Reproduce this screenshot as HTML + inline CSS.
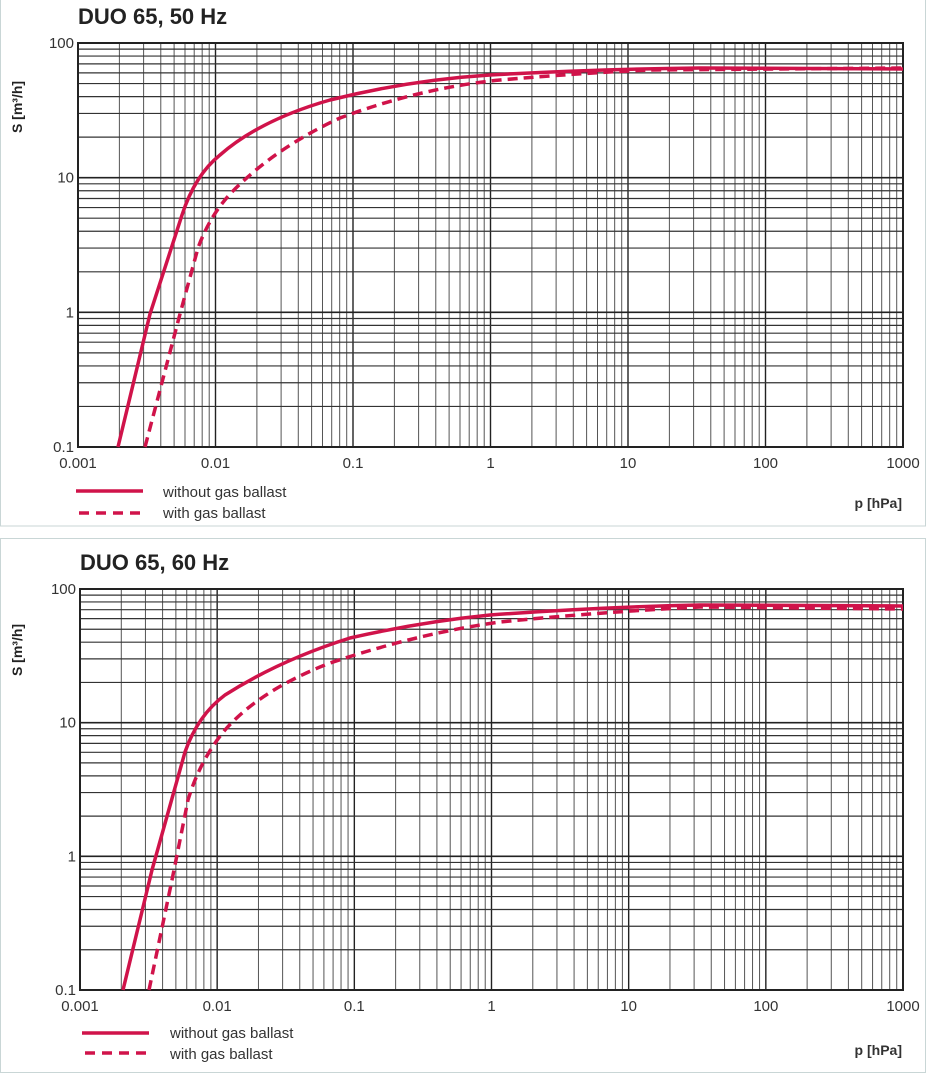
<!DOCTYPE html>
<html><head><meta charset="utf-8"><style>
html,body{margin:0;padding:0;background:#fff;}
svg{display:block;font-family:"Liberation Sans",sans-serif;}
</style></head><body>
<svg id="s" width="933" height="1076" xmlns="http://www.w3.org/2000/svg">
<rect x="0.5" y="-2" width="925" height="528" fill="#fff" stroke="#c9d6d6"/>
<rect x="0.5" y="538.5" width="925" height="534" fill="#fff" stroke="#c9d6d6"/>
<g id="g"></g>
<text x="78" y="24" font-size="22" font-weight="bold" fill="#222">DUO 65, 50 Hz</text>
<text x="80" y="570" font-size="22" font-weight="bold" fill="#222">DUO 65, 60 Hz</text>
<text transform="translate(22,107) rotate(-90)" font-size="14" fill="#222" text-anchor="middle" font-weight="bold">S [m³/h]</text>
<text transform="translate(22,650) rotate(-90)" font-size="14" fill="#222" text-anchor="middle" font-weight="bold">S [m³/h]</text>
<text x="902" y="508" font-size="14" font-weight="bold" fill="#333" text-anchor="end">p [hPa]</text>
<text x="902" y="1055" font-size="14" font-weight="bold" fill="#333" text-anchor="end">p [hPa]</text>
<g stroke="#d0134a" stroke-width="3.5" fill="none">
<line x1="76" y1="491" x2="143" y2="491"/>
<line x1="79" y1="513" x2="143" y2="513" stroke-dasharray="10,7"/>
<line x1="82" y1="1033" x2="149" y2="1033"/>
<line x1="85" y1="1053" x2="149" y2="1053" stroke-dasharray="10,7"/>
<path d="M118,447 L150,314 L182,215 Q195,175 220,155 Q260,120 330,100 Q410,80 490,75 Q600,69 700,68 L903,69"/>
<path stroke-dasharray="10,6" d="M145,447 L180,314 L198,248 Q210,215 232,192 Q275,148 340,118 Q420,88 500,80 Q580,73 650,70 L903,68"/>
<path d="M123,990 L152,870 L185,752 Q198,715 225,695 Q280,660 350,638 Q420,622 490,615 Q600,607 700,605 L903,606"/>
<path stroke-dasharray="10,6" d="M149,990 L172,880 L188,800 Q200,760 225,730 Q260,690 330,663 Q420,633 500,622 Q600,612 700,607 L903,609"/>
</g>
<g font-size="15" fill="#333">
<text x="163" y="497">without gas ballast</text>
<text x="163" y="518">with gas ballast</text>
<text x="170" y="1038">without gas ballast</text>
<text x="170" y="1059">with gas ballast</text>
</g>
</svg>
<script>
var g=document.getElementById('g'),NS="http://www.w3.org/2000/svg";
function el(t,a,txt){var e=document.createElementNS(NS,t);for(var k in a)e.setAttribute(k,a[k]);if(txt)e.textContent=txt;g.appendChild(e);}
function plot(L,T,R,B){
 var dx=(R-L)/6,dy=(B-T)/3;
 for(var d=0;d<6;d++)for(var i=1;i<10;i++){var x=L+dx*(d+Math.log10(i));el('line',{x1:x,y1:T,x2:x,y2:B,stroke:i==1?'#222':'#555','stroke-width':i==1?1.4:1});}
 for(var d=0;d<3;d++)for(var i=1;i<10;i++){var y=B-dy*(d+Math.log10(i));el('line',{x1:L,y1:y,x2:R,y2:y,stroke:i==1?'#222':'#333','stroke-width':i==1?1.6:1.2});}
 el('rect',{x:L,y:T,width:R-L,height:B-T,fill:'none',stroke:'#222','stroke-width':2});
 var xl=['0.001','0.01','0.1','1','10','100','1000'];
 for(var d=0;d<7;d++)el('text',{x:L+dx*d,y:B+21,'font-size':15,fill:'#333','text-anchor':'middle'},xl[d]);
 var yl=['0.1','1','10','100'];
 for(var d=0;d<4;d++)el('text',{x:L-4,y:B-dy*d+5,'font-size':15,fill:'#333','text-anchor':'end'},yl[d]);
}
plot(78,43,903,447);
plot(80,589,903,990);
</script>
</body></html>
